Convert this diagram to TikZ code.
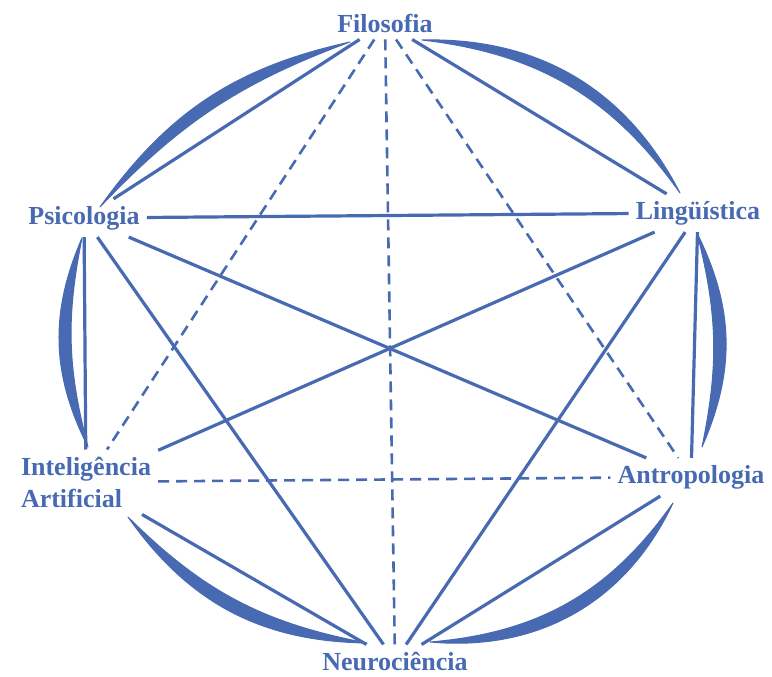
\documentclass[tikz,border=0pt]{standalone}
\usepackage{fontspec}
\setmainfont{Liberation Serif}
\definecolor{rimblue}{RGB}{72,106,178}

\begin{document}
\begin{tikzpicture}[x=1pt, y=1pt,
        lbl/.style={font=\fontsize{26}{32}\selectfont\bfseries, text=rimblue, inner sep=7pt},
        chord/.style={draw=rimblue, line width=3.2pt},
        dchord/.style={chord, line width=2.6pt, dash pattern=on 11pt off 7pt},
        rim/.style={fill=rimblue, draw=rimblue, line width=1pt, line join=round}]
      \useasboundingbox (0,0) rectangle (772,677);
      % disciplines
      \node[lbl] (filo) at (385,654) {Filosofia};
      \node[lbl] (psi) at (84,459) {Psicologia};
      \node[lbl] (lin) at (698,464) {Lingüística};
      \node[lbl, align=left] (ia) at (86,195) {Inteligência\\Artificial};
      \node[lbl] (ant) at (691,200) {Antropologia};
      \node[lbl] (neu) at (395,16) {Neurociência};
      % ends of the rim arcs
      \coordinate (r1) at (100,470);  \coordinate (r2) at (350,635);
      \coordinate (r3) at (422,637);  \coordinate (r4) at (680,484);
      \coordinate (r5) at (697,444);  \coordinate (r6) at (702,230);
      \coordinate (r7) at (673,174);  \coordinate (r8) at (430,35);
      \coordinate (r9) at (367,34);   \coordinate (r10) at (128,160);
      \coordinate (r11) at (88,230);  \coordinate (r12) at (82,439);
      % outer rim, one tapered arc between neighbours
      \foreach \a/\b/\o/\i in {r1/r2/21/13, r3/r4/32/24, r5/r6/25/13,
                               r7/r8/35/25, r9/r10/27/17, r11/r12/25/13}
        \fill[rim] (\a) to[bend left=\o] (\b) to[bend right=\i] (\a) -- cycle;
      % solid links
      \draw[chord] (filo) -- (psi);
      \draw[chord] (filo) -- (lin);
      \draw[chord] (psi) -- (lin);
      \draw[chord] (psi) -- (ant);
      \draw[chord] (psi) -- (neu);
      \draw[chord] (psi) -- (ia);
      \draw[chord] (lin) -- (ia);
      \draw[chord] (lin) -- (neu);
      \draw[chord] (lin) -- (ant);
      \draw[chord] (ia) -- (neu);
      \draw[chord] (ant) -- (neu);
      % dashed links
      \draw[dchord] (filo) -- (ia);
      \draw[dchord] (filo) -- (neu);
      \draw[dchord] (filo) -- (ant);
      \draw[dchord] (ia) -- (ant);
    \end{tikzpicture}
\end{document}
